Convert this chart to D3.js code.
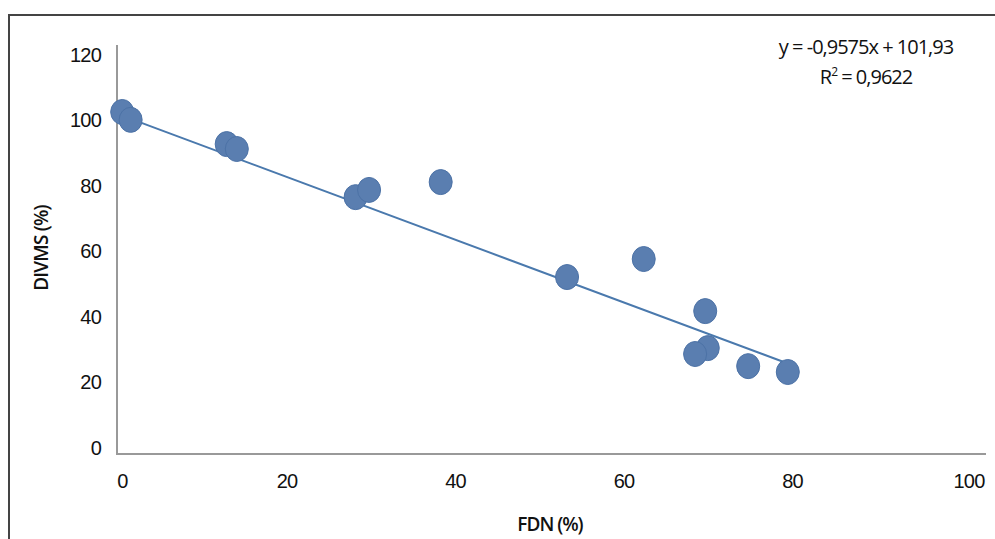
<!DOCTYPE html>
<html>
<head>
<meta charset="utf-8">
<script src="https://cdn.jsdelivr.net/npm/d3@7"></script>
<style>
  body { margin: 0; background: #fff; }
  svg { display: block; font-family: "Open Sans", "Noto Sans", sans-serif; }
  .tick text { font-size: 20px; fill: #111; letter-spacing: -0.8px; }
</style>
</head>
<body>
<div id="vis"></div>
<script>
// FDN (%) vs DIVMS (%)
const fdn   = [0.5, 1.5, 12.9, 14.1, 28.2, 29.8, 38.3, 53.3, 62.4, 69.7, 70.0, 68.5, 74.8, 79.5];
const divms = [102.6, 100.2, 92.8, 91.3, 76.6, 78.8, 81.2, 52.2, 57.7, 41.8, 30.5, 28.7, 25.0, 23.2];
const xTicks = [0, 20, 40, 60, 80, 100];
const yTicks = [0, 20, 40, 60, 80, 100, 120];
const slope = -0.9575;
const intercept = 101.93;

const FRAME_WIDTH = 995;
const FRAME_HEIGHT = 539;

const svg = d3.select('#vis')
  .append('svg')
  .attr('width', FRAME_WIDTH)
  .attr('height', FRAME_HEIGHT);

// outer chart border
svg.append('rect')
  .attr('x', 9).attr('y', 15)
  .attr('width', 1000).attr('height', 560)
  .attr('fill', 'none')
  .attr('stroke', '#444')
  .attr('stroke-width', 2);

const X_SCALE = d3.scaleLinear().domain([0, 100]).range([118, 960.5]);
const Y_SCALE = d3.scaleLinear().domain([0, 120]).range([448, 55]);

// axis lines
svg.append('line')
  .attr('x1', 117).attr('x2', 117)
  .attr('y1', 45).attr('y2', 455)
  .attr('stroke', '#999').attr('stroke-width', 2);
svg.append('line')
  .attr('x1', 116).attr('x2', 986)
  .attr('y1', 454).attr('y2', 454)
  .attr('stroke', '#999').attr('stroke-width', 2);

// x axis labels
const xAxis = svg.append('g')
  .attr('transform', 'translate(0,471)')
  .call(d3.axisBottom(X_SCALE).tickValues(xTicks).tickSize(0).tickFormat(d3.format('d')));
xAxis.select('.domain').remove();
xAxis.selectAll('text')
  .attr('dx', d => d === 0 ? 4 : (d === 100 ? 8 : 0));

// y axis labels
const yAxis = svg.append('g')
  .attr('transform', 'translate(101,0)')
  .call(d3.axisLeft(Y_SCALE).tickValues(yTicks).tickSize(0).tickPadding(0).tickFormat(d3.format('d')));
yAxis.select('.domain').remove();

// axis titles
svg.append('text')
  .attr('x', 550).attr('y', 531)
  .attr('text-anchor', 'middle')
  .attr('font-size', 19).attr('font-weight', 600)
  .attr('letter-spacing', -1)
  .attr('fill', '#111')
  .text('FDN (%)');

svg.append('text')
  .attr('transform', 'translate(48,248) rotate(-90)')
  .attr('text-anchor', 'middle')
  .attr('font-size', 19).attr('font-weight', 600)
  .attr('letter-spacing', -0.8)
  .attr('fill', '#111')
  .text('DIVMS (%)');

// trend line
const xMax = d3.max(fdn);
svg.append('line')
  .attr('x1', X_SCALE(0)).attr('y1', Y_SCALE(intercept))
  .attr('x2', X_SCALE(xMax)).attr('y2', Y_SCALE(intercept + slope * xMax))
  .attr('stroke', '#4a79ad')
  .attr('stroke-width', 2);

// points
svg.selectAll('.point')
  .data(fdn.map((d, i) => [d, divms[i]]))
  .enter()
  .append('ellipse')
    .attr('class', 'point')
    .attr('cx', d => X_SCALE(d[0]))
    .attr('cy', d => Y_SCALE(d[1]))
    .attr('rx', 11.5)
    .attr('ry', 12.5)
    .attr('fill', '#5a7eb0')
    .attr('stroke', '#4c72a6')
    .attr('stroke-width', 1);

// equation
svg.append('text')
  .attr('text-anchor', 'middle')
  .attr('font-size', 20)
  .attr('letter-spacing', -1)
  .attr('fill', '#111')
  .attr('x', 866).attr('y', 54)
  .text('y = -0,9575x + 101,93');
const r2 = svg.append('text')
  .attr('text-anchor', 'middle')
  .attr('font-size', 20)
  .attr('letter-spacing', -1)
  .attr('fill', '#111')
  .attr('x', 866).attr('y', 84);
r2.append('tspan').text('R');
r2.append('tspan').attr('font-size', 12).attr('dy', -8).text('2');
r2.append('tspan').attr('dy', 8).text(' = 0,9622');
</script>
</body>
</html>
